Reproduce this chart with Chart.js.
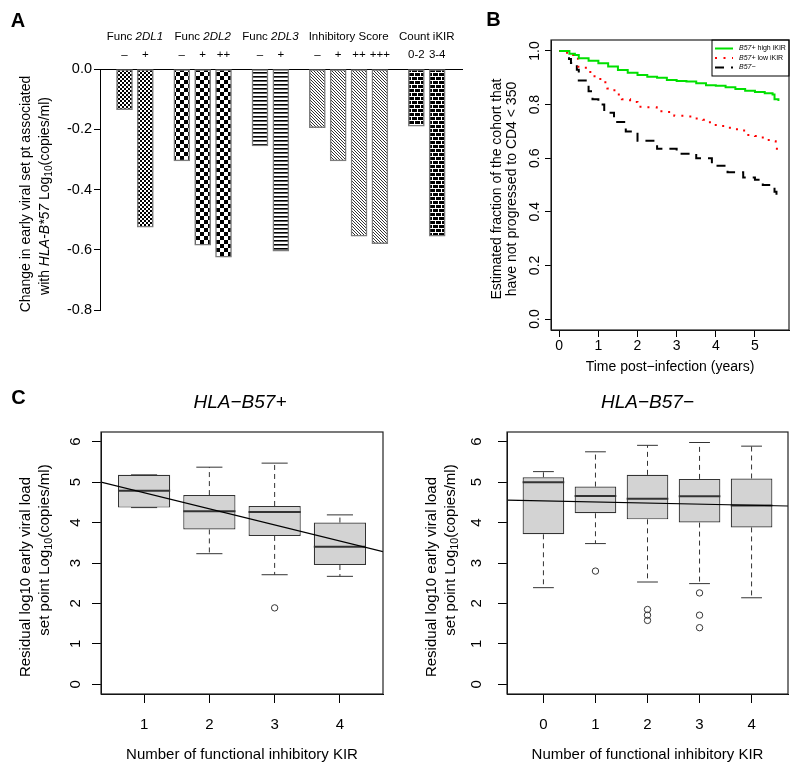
<!DOCTYPE html>
<html>
<head>
<meta charset="utf-8">
<title>KIR and HLA-B*57 figure</title>
<script src="https://cdn.jsdelivr.net/npm/chart.js@4.4.1/dist/chart.umd.min.js"></script>
<style>
  html, body { margin: 0; padding: 0; background: #fff; }
  #fig { position: relative; width: 800px; height: 774px; overflow: hidden; background: #fff; }
  #fig canvas { position: absolute; }
</style>
</head>
<body>
<div id="fig">
  <canvas id="panel-a" width="470" height="380" style="left:0;top:0"></canvas>
  <canvas id="panel-b" width="330" height="390" style="left:470px;top:0"></canvas>
  <canvas id="panel-c1" width="400" height="394" style="left:0;top:380px"></canvas>
  <canvas id="panel-c2" width="400" height="394" style="left:400px;top:380px"></canvas>
</div>
<script>
const FONT = '"Liberation Sans", Arial, Helvetica, sans-serif';
Chart.defaults.font.family = FONT;
Chart.defaults.color = '#000';

// ---- Panel A: change in set point by KIR category
const aGroups = ['2DL1', '2DL2', '2DL3', 'Inhibitory Score', 'Count iKIR'];
const aBarGroup = [0, 0, 1, 1, 1, 2, 2, 3, 3, 3, 3, 4, 4];
const aBarLabels = ['–', '+', '–', '+', '++', '–', '+', '–', '+', '++', '+++', '0-2', '3-4'];
const aBarSlot = [0, 1, 2.75, 3.75, 4.75, 6.5, 7.5, 9.25, 10.25, 11.25, 12.25, 14, 15];
const aValues = [-0.135, -0.525, -0.305, -0.585, -0.625, -0.255, -0.605, -0.195, -0.305, -0.555, -0.58, -0.19, -0.555];
const aTicks = [0, -0.2, -0.4, -0.6, -0.8];

// ---- Panel B: Kaplan-Meier curves
const highT = [0, 0.26, 0.4, 0.5, 0.75, 1.0, 1.25, 1.5, 1.75, 2.0, 2.25, 2.5, 2.75, 3.0, 3.25, 3.5, 3.75, 4.0, 4.25, 4.5, 4.75, 5.0, 5.25, 5.45, 5.5, 5.6];
const highS = [1.0, 0.99, 0.985, 0.973, 0.964, 0.954, 0.942, 0.929, 0.919, 0.91, 0.904, 0.9, 0.892, 0.888, 0.886, 0.88, 0.872, 0.87, 0.865, 0.858, 0.852, 0.847, 0.842, 0.838, 0.82, 0.813];
const lowT = [0, 0.2, 0.38, 0.49, 0.68, 0.86, 1.05, 1.23, 1.41, 1.6, 1.81, 2.0, 2.25, 2.49, 2.73, 2.94, 3.19, 3.43, 3.67, 3.85, 4.1, 4.36, 4.57, 4.79, 5.0, 5.2, 5.46, 5.53, 5.6];
const lowS = [1.0, 0.985, 0.971, 0.937, 0.922, 0.906, 0.883, 0.86, 0.838, 0.82, 0.81, 0.792, 0.79, 0.775, 0.772, 0.758, 0.756, 0.748, 0.743, 0.724, 0.72, 0.708, 0.703, 0.687, 0.683, 0.668, 0.663, 0.635, 0.635];
const negT = [0, 0.25, 0.3, 0.45, 0.5, 0.75, 0.85, 1.0, 1.15, 1.4, 1.7, 2.0, 2.5, 3.0, 3.5, 3.9, 4.3, 4.7, 5.0, 5.2, 5.5, 5.55, 5.6];
const negS = [1.0, 0.97, 0.955, 0.93, 0.89, 0.85, 0.82, 0.80, 0.77, 0.735, 0.70, 0.665, 0.635, 0.617, 0.6, 0.572, 0.548, 0.528, 0.52, 0.5, 0.475, 0.45, 0.45];
const bXTicks = [0, 1, 2, 3, 4, 5];
const bYTicks = [0, 0.2, 0.4, 0.6, 0.8, 1.0];

// ---- Panel C: boxplots of residual set point
const c1Cats = [1, 2, 3, 4];
const c1Lo = [4.37, 3.23, 2.71, 2.67];
const c1Q1 = [4.37, 3.83, 3.67, 2.95];
const c1Med = [4.79, 4.28, 4.26, 3.40];
const c1Q3 = [5.18, 4.68, 4.41, 4.00];
const c1Hi = [5.18, 5.37, 5.47, 4.19];
const c1OutX = [3];
const c1OutY = [1.89];
const c1FitX = [0.34, 4.66];
const c1FitY = [5.0, 3.28];

const c2Cats = [0, 1, 2, 3, 4];
const c2Lo = [2.39, 3.48, 2.53, 2.49, 2.14];
const c2Q1 = [3.71, 4.23, 4.08, 4.00, 3.88];
const c2Med = [5.00, 4.66, 4.59, 4.65, 4.42];
const c2Q3 = [5.12, 4.89, 5.18, 5.08, 5.09];
const c2Hi = [5.26, 5.75, 5.91, 5.98, 5.89];
const c2OutX = [1, 2, 2, 2, 3, 3, 3];
const c2OutY = [2.80, 1.85, 1.71, 1.58, 2.26, 1.71, 1.40];
const c2FitX = [-0.7, 4.7];
const c2FitY = [4.555, 4.41];
const cYTicks = [0, 1, 2, 3, 4, 5, 6];

// mixed-style text (italic, bold, subscript runs), optionally rotated
function richText(ctx, t) {
  const size = t.size || 14;
  const fontFor = st => `${st === 'i' ? 'italic ' : ''}${st === 'b' ? 'bold ' : ''}${st === 's' ? size * 0.72 : size}px ${FONT}`;
  ctx.save();
  ctx.translate(t.x, t.y);
  if (t.rot) ctx.rotate(t.rot);
  ctx.fillStyle = '#000';
  ctx.textBaseline = 'middle';
  ctx.textAlign = 'left';
  let width = 0;
  t.runs.forEach(([s, st]) => { ctx.font = fontFor(st); width += ctx.measureText(s).width; });
  let cx = t.align === 'left' ? 0 : -width / 2;
  t.runs.forEach(([s, st]) => {
    ctx.font = fontFor(st);
    ctx.fillText(s, cx, st === 's' ? size * 0.28 : 0);
    cx += ctx.measureText(s).width;
  });
  ctx.restore();
}
const textLayer = build => ({ id: 'textLayer', afterDraw: chart => build(chart).forEach(t => richText(chart.ctx, t)) });

const plotBox = {
  id: 'plotBox',
  afterDraw(chart) {
    const { ctx, chartArea: a } = chart;
    ctx.save();
    ctx.strokeStyle = '#222';
    ctx.lineWidth = 1.2;
    ctx.strokeRect(a.left, a.top, a.right - a.left, a.bottom - a.top);
    ctx.restore();
  }
};

function makePattern(kind) {
  const c = document.createElement('canvas');
  const g = c.getContext('2d');
  if (kind === 'fineCheck') {
    c.width = c.height = 4;
    g.fillStyle = '#fff'; g.fillRect(0, 0, 4, 4);
    g.fillStyle = '#000'; g.fillRect(0, 0, 2, 2); g.fillRect(2, 2, 2, 2);
  } else if (kind === 'check') {
    c.width = c.height = 8;
    g.fillStyle = '#fff'; g.fillRect(0, 0, 8, 8);
    g.fillStyle = '#000'; g.fillRect(0, 0, 4, 4); g.fillRect(4, 4, 4, 4);
  } else if (kind === 'hlines') {
    c.width = c.height = 4;
    g.fillStyle = '#fff'; g.fillRect(0, 0, 4, 4);
    g.fillStyle = '#000'; g.fillRect(0, 0, 4, 1);
    g.fillStyle = '#666'; g.fillRect(0, 1, 4, 1);
  } else if (kind === 'diag') {
    c.width = c.height = 3;
    g.fillStyle = '#fff'; g.fillRect(0, 0, 3, 3);
    g.fillStyle = '#333';
    for (let i = 0; i < 3; i++) g.fillRect(i, i, 1, 1);
  } else {
    c.width = 6; c.height = 8;
    g.fillStyle = '#000'; g.fillRect(0, 0, 6, 8);
    g.fillStyle = '#fff';
    g.fillRect(0, 0, 6, 1); g.fillRect(0, 4, 6, 1);
    g.fillRect(0, 1, 1, 3); g.fillRect(3, 5, 1, 3);
  }
  return g.createPattern(c, 'repeat');
}
const groupFills = ['fineCheck', 'check', 'hlines', 'diag', 'brick'].map(makePattern);

function rAxis(min, max, tickVals, fmt, size, tl, pad, fit, vertical) {
  return {
    type: 'linear', min, max, offset: false,
    afterBuildTicks: s => { s.ticks = tickVals.map(v => ({ value: v })); },
    afterFit: s => { if (vertical) s.width = fit; else s.height = fit; },
    ticks: {
      callback: fmt, font: { size }, color: '#000', padding: pad, autoSkip: false,
      minRotation: vertical ? 90 : 0, maxRotation: vertical ? 90 : 0,
      crossAlign: vertical ? 'center' : 'near'
    },
    grid: { display: true, drawOnChartArea: false, drawTicks: true, tickLength: tl, color: '#000', offset: false },
    border: { display: true, color: '#000', width: 1 }
  };
}

// ---------- Panel A ----------
new Chart(document.getElementById('panel-a'), {
  type: 'bar',
  data: {
    datasets: [{
      data: aValues.map((v, i) => ({ x: aBarSlot[i], y: v })),
      backgroundColor: aBarGroup.map(g => groupFills[g]),
      borderColor: '#7d7d7d',
      borderWidth: 1.5,
      borderSkipped: false,
      barThickness: 16
    }]
  },
  options: {
    responsive: false, animation: false, events: [],
    layout: { padding: { top: 69, right: 8, bottom: 70, left: 0 } },
    plugins: { legend: { display: false }, tooltip: { enabled: false } },
    scales: {
      x: {
        type: 'linear', position: 'top', min: -1.175, max: 16.19, offset: false,
        ticks: { display: false }, grid: { display: false, offset: false },
        border: { display: true, color: '#000', width: 1 },
        afterFit: s => { s.height = 0; }
      },
      y: {
        min: -0.8, max: 0,
        afterBuildTicks: s => { s.ticks = aTicks.map(v => ({ value: v })); },
        afterFit: s => { s.width = 100; },
        ticks: { callback: v => v.toFixed(1), font: { size: 14.5 }, color: '#000', padding: 2 },
        grid: { drawOnChartArea: false, drawTicks: true, tickLength: 6, color: '#000' },
        border: { color: '#000', width: 1 }
      }
    }
  },
  plugins: [textLayer(chart => {
    const a = chart.chartArea, xs = chart.scales.x;
    const items = [{ runs: [['A', 'b']], x: 18, y: 21, size: 20 }];
    aGroups.forEach((g, gi) => {
      const px = aBarSlot.filter((_, i) => aBarGroup[i] === gi).map(v => xs.getPixelForValue(v));
      const runs = gi < 3 ? [['Func ', ''], [g, 'i']] : [[g, '']];
      items.push({ runs, x: (Math.min(...px) + Math.max(...px)) / 2, y: a.top - 32, size: 11.5 });
    });
    aBarLabels.forEach((l, i) => items.push({ runs: [[l, '']], x: xs.getPixelForValue(aBarSlot[i]), y: a.top - 14, size: 11.5 }));
    items.push({ runs: [['Change in early viral set pt associated', '']], x: 26, y: 194, size: 14, rot: -Math.PI / 2 });
    items.push({ runs: [['with ', ''], ['HLA-B*57', 'i'], [' Log', ''], ['10', 's'], ['(copies/ml)', '']], x: 45, y: 196, size: 14, rot: -Math.PI / 2 });
    return items;
  })]
});

// ---------- Panel B ----------
const bLegend = [[['B57+', 'i'], [' high iKIR', '']], [['B57+', 'i'], [' low iKIR', '']], [['B57−', 'i']]];
const toPts = (xs, ys) => xs.map((x, i) => ({ x, y: ys[i] }));
new Chart(document.getElementById('panel-b'), {
  type: 'line',
  data: {
    datasets: [
      { data: toPts(highT, highS), borderColor: '#00e000', borderWidth: 2, stepped: true, pointRadius: 0, fill: false },
      { data: toPts(lowT, lowS), borderColor: '#ff0000', borderWidth: 2, borderDash: [2, 6.5], stepped: true, pointRadius: 0, fill: false },
      { data: toPts(negT, negS), borderColor: '#000', borderWidth: 2, borderDash: [9, 7], stepped: true, pointRadius: 0, fill: false }
    ]
  },
  options: {
    responsive: false, animation: false, events: [],
    layout: { padding: { top: 40, right: 11, bottom: 0, left: 0 } },
    plugins: { legend: { display: false }, tooltip: { enabled: false } },
    scales: {
      x: rAxis(-0.21, 5.87, bXTicks, v => String(v), 14, 7, 1, 60, false),
      y: rAxis(-0.041, 1.041, bYTicks, v => v.toFixed(1), 14, 6, 0, 81, true)
    }
  },
  plugins: [plotBox, {
    id: 'kmLegend',
    afterDraw(chart) {
      const { ctx, chartArea: a } = chart;
      const w = 77, h = 36, x0 = a.right - w, y0 = a.top;
      ctx.save();
      ctx.strokeStyle = '#000'; ctx.lineWidth = 1;
      ctx.strokeRect(x0, y0, w, h);
      chart.data.datasets.forEach((ds, i) => {
        const yy = y0 + 8.5 + i * 9.5;
        ctx.strokeStyle = ds.borderColor; ctx.lineWidth = ds.borderWidth;
        ctx.setLineDash(ds.borderDash || []);
        ctx.beginPath(); ctx.moveTo(x0 + 3, yy); ctx.lineTo(x0 + 21, yy); ctx.stroke();
        ctx.setLineDash([]);
        richText(ctx, { runs: bLegend[i], x: x0 + 27, y: yy, size: 7, align: 'left' });
      });
      ctx.restore();
    }
  }, textLayer(chart => {
    const a = chart.chartArea;
    return [
      { runs: [['B', 'b']], x: 23.5, y: 20, size: 20 },
      { runs: [['Estimated fraction of the cohort that', '']], x: 27, y: 189, size: 14, rot: -Math.PI / 2 },
      { runs: [['have not progressed to CD4 < 350', '']], x: 42, y: 189, size: 14, rot: -Math.PI / 2 },
      { runs: [['Time post−infection (years)', '']], x: (a.left + a.right) / 2, y: 367, size: 14 }
    ];
  })]
});

// ---------- Panel C ----------
function boxChart(id, cats, lo, q1, med, q3, hi, outX, outY, fitX, fitY, xr, area, yPad, title, withLetter, titleX) {
  const boxExtras = {
    id: 'boxExtras',
    afterDatasetDraw(chart, args) {
      if (args.index !== 0) return;
      const { ctx, scales: { x, y } } = chart;
      const unit = x.getPixelForValue(1) - x.getPixelForValue(0);
      const line = (x1, y1, x2, y2) => { ctx.beginPath(); ctx.moveTo(x1, y1); ctx.lineTo(x2, y2); ctx.stroke(); };
      ctx.save();
      ctx.strokeStyle = '#333';
      cats.forEach((c, i) => {
        const px = x.getPixelForValue(c);
        ctx.lineWidth = 1; ctx.setLineDash([5, 4]);
        line(px, y.getPixelForValue(q3[i]), px, y.getPixelForValue(hi[i]));
        line(px, y.getPixelForValue(q1[i]), px, y.getPixelForValue(lo[i]));
        ctx.setLineDash([]);
        line(px - unit * 0.2, y.getPixelForValue(hi[i]), px + unit * 0.2, y.getPixelForValue(hi[i]));
        line(px - unit * 0.2, y.getPixelForValue(lo[i]), px + unit * 0.2, y.getPixelForValue(lo[i]));
        ctx.lineWidth = 2;
        line(px - unit * 0.4, y.getPixelForValue(med[i]), px + unit * 0.4, y.getPixelForValue(med[i]));
      });
      ctx.restore();
    }
  };
  return new Chart(document.getElementById(id), {
    type: 'bar',
    data: {
      datasets: [
        { type: 'bar', order: 3, data: cats.map((c, i) => ({ x: c, y: [q1[i], q3[i]] })),
          backgroundColor: '#d3d3d3', borderColor: '#333', borderWidth: 1.2, borderSkipped: false,
          barPercentage: 0.8, categoryPercentage: 1 },
        { type: 'scatter', order: 2, data: toPts(outX, outY), pointStyle: 'circle', pointRadius: 3.2,
          pointBackgroundColor: 'rgba(0,0,0,0)', pointBorderColor: '#333', pointBorderWidth: 1, showLine: false },
        { type: 'line', order: 1, data: toPts(fitX, fitY), borderColor: '#000', borderWidth: 1.2, pointRadius: 0, fill: false }
      ]
    },
    options: {
      responsive: false, animation: false, events: [],
      layout: { padding: { top: area.top, right: 400 - area.right, bottom: 0, left: 0 } },
      plugins: { legend: { display: false }, tooltip: { enabled: false } },
      scales: {
        x: rAxis(xr[0], xr[1], cats, v => String(v), 15, 9, 13, 394 - area.bottom, false),
        y: Object.assign(rAxis(-0.24, 6.24, cYTicks, v => String(v), 15, 9, yPad, area.left, true), { beginAtZero: false })
      }
    },
    plugins: [boxExtras, plotBox, textLayer(chart => {
      const a = chart.chartArea;
      const items = [
        { runs: [[title, 'i']], x: titleX, y: 23, size: 19 },
        { runs: [['Residual log10 early viral load', '']], x: a.left - 75, y: 197, size: 15, rot: -Math.PI / 2 },
        { runs: [['set point Log', ''], ['10', 's'], ['(copies/ml)', '']], x: a.left - 56, y: 170, size: 15, rot: -Math.PI / 2 },
        { runs: [['Number of functional inhibitory KIR', '']], x: (a.left + a.right) / 2, y: 375, size: 15 }
      ];
      if (withLetter) items.push({ runs: [['C', 'b']], x: 18.5, y: 18.5, size: 20 });
      return items;
    })]
  });
}

boxChart('panel-c1', c1Cats, c1Lo, c1Q1, c1Med, c1Q3, c1Hi, c1OutX, c1OutY, c1FitX, c1FitY,
  [0.34, 4.66], { left: 101, right: 383, top: 52, bottom: 314 }, 12, 'HLA−B57+', true, 240);
boxChart('panel-c2', c2Cats, c2Lo, c2Q1, c2Med, c2Q3, c2Hi, c2OutX, c2OutY, c2FitX, c2FitY,
  [-0.7, 4.7], { left: 107, right: 388, top: 52, bottom: 314 }, 17, 'HLA−B57−', false, 247.5);
</script>
</body>
</html>
